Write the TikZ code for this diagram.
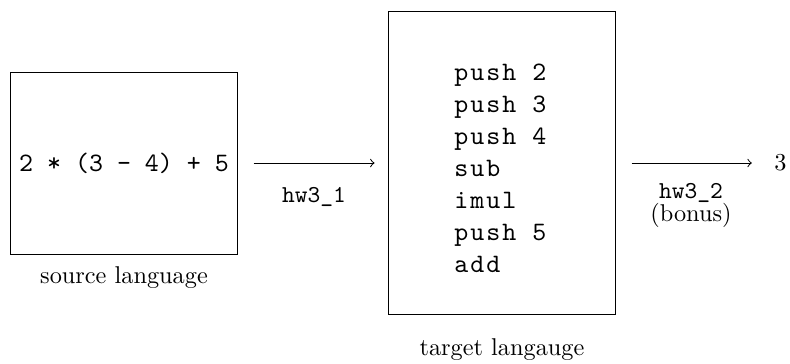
\documentclass[tikz,border=0pt]{standalone}
\usepackage{fontspec}
% spaced-out monospace for the stack-machine listing
\newfontfamily\codefont{lmmono10-regular.otf}[LetterSpace=7.5]

\begin{document}
\begin{tikzpicture}[x=0.4115pt, y=-0.4115pt,
  box/.style={draw, line width=0.4pt, inner sep=0pt},
  lbl/.style={inner sep=0pt, anchor=base},
  flow/.style={->, line width=0.4pt}]
\useasboundingbox (0,0) rectangle (790,363);

% source program
\node[box, minimum width=93.8pt, minimum height=74.9pt] (src) at (124,163) {};
\node[inner sep=0pt, anchor=base, font=\fontsize{10.95}{13.6}\selectfont\ttfamily]
  (expr) at (124,171.5) {2 * (3 - 4) + 5};
\node[lbl] (srclbl) at (124,283) {source language};

% compiled stack code
\node[box, minimum width=93.8pt, minimum height=124.3pt] (tgt) at (502,163) {};
\node[inner sep=0pt, anchor=north west, align=left,
      font=\codefont\fontsize{10.95}{13.17}\selectfont]
  (code) at (454,63.7) {push 2\\push 3\\push 4\\sub\\imul\\push 5\\add};
\node[lbl] (tgtlbl) at (502,355) {target langauge};

% evaluation result
\node[inner sep=0pt] (res) at (780.5,163) {3};

% compiler and interpreter steps
\draw[flow, shorten <=6.2pt, shorten >=5.35pt] (src) -- (tgt);
\node[lbl, font=\ttfamily] (step1) at (314,202) {hw3\_1};
\draw[flow, shorten <=6.2pt, shorten >=9.1pt] (tgt) -- (res);
\node[inner sep=0pt, anchor=north, align=center] (step2) at (691,183)
  {\texttt{hw3\_2}\\[-2.5pt](bonus)};
\end{tikzpicture}
\end{document}
